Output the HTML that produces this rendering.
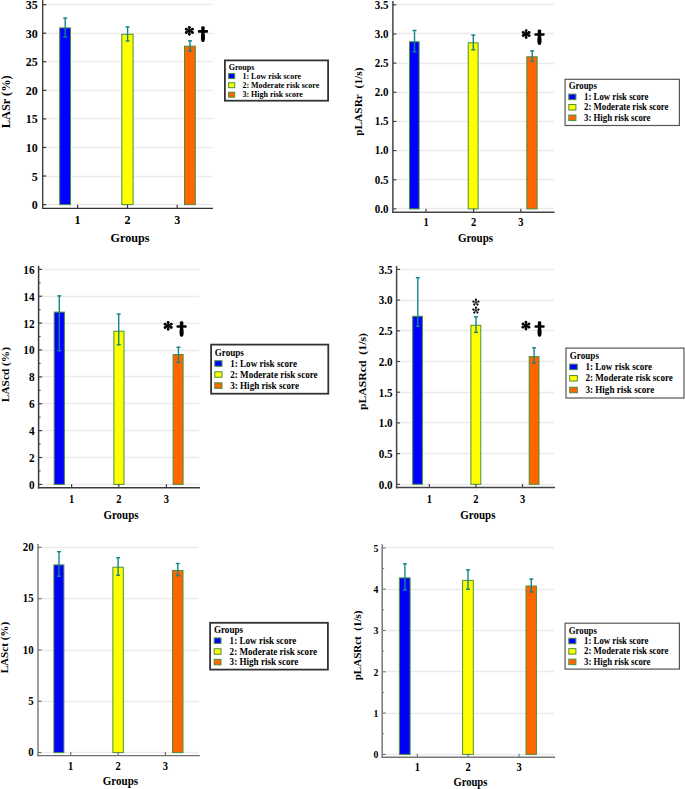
<!DOCTYPE html>
<html><head><meta charset="utf-8"><style>
html,body{margin:0;padding:0;background:#fff;width:685px;height:789px;overflow:hidden}
svg{display:block}
text{font-family:'Liberation Serif', serif;font-weight:bold;fill:#000}
</style></head><body>
<svg width="685" height="789" viewBox="0 0 685 789">
<rect width="685" height="789" fill="#fff"/>
<line x1="46.2" y1="204.5" x2="212.5" y2="204.5" stroke="#ebebeb" stroke-width="1.3"/>
<line x1="46.2" y1="176.5" x2="212.5" y2="176.5" stroke="#ebebeb" stroke-width="1.3"/>
<line x1="46.2" y1="147.5" x2="212.5" y2="147.5" stroke="#ebebeb" stroke-width="1.3"/>
<line x1="46.2" y1="118.5" x2="212.5" y2="118.5" stroke="#ebebeb" stroke-width="1.3"/>
<line x1="46.2" y1="90.5" x2="212.5" y2="90.5" stroke="#ebebeb" stroke-width="1.3"/>
<line x1="46.2" y1="61.5" x2="212.5" y2="61.5" stroke="#ebebeb" stroke-width="1.3"/>
<line x1="46.2" y1="33.5" x2="212.5" y2="33.5" stroke="#ebebeb" stroke-width="1.3"/>
<line x1="46.2" y1="4.5" x2="212.5" y2="4.5" stroke="#ebebeb" stroke-width="1.3"/>
<rect x="59.7" y="27.9" width="10.8" height="176.7" fill="#0000ff" stroke="#4a8f3a" stroke-width="1"/>
<rect x="121.8" y="34.3" width="11.3" height="170.3" fill="#ffff00" stroke="#4a8f3a" stroke-width="1"/>
<rect x="184.5" y="46.2" width="10.8" height="158.4" fill="#ff6600" stroke="#4a8f3a" stroke-width="1"/>
<g stroke="#158585" stroke-width="1.4"><line x1="65.2" y1="17.5" x2="65.2" y2="37.6"/><line x1="63.2" y1="18.1" x2="67.2" y2="18.1"/><line x1="63.2" y1="37" x2="67.2" y2="37"/></g>
<g stroke="#158585" stroke-width="1.4"><line x1="127.6" y1="26.4" x2="127.6" y2="41.5"/><line x1="125.6" y1="27" x2="129.6" y2="27"/><line x1="125.6" y1="40.9" x2="129.6" y2="40.9"/></g>
<g stroke="#158585" stroke-width="1.4"><line x1="190" y1="40.3" x2="190" y2="51.4"/><line x1="188" y1="40.9" x2="192" y2="40.9"/><line x1="188" y1="50.8" x2="192" y2="50.8"/></g>
<line x1="42.7" y1="0" x2="42.7" y2="208.95" stroke="#333" stroke-width="1.3"/>
<line x1="42.3" y1="208.3" x2="213" y2="208.3" stroke="#333" stroke-width="1.3"/>
<line x1="42.7" y1="204.6" x2="46.2" y2="204.6" stroke="#333" stroke-width="1.2"/>
<line x1="42.7" y1="176.03" x2="46.2" y2="176.03" stroke="#333" stroke-width="1.2"/>
<line x1="42.7" y1="147.46" x2="46.2" y2="147.46" stroke="#333" stroke-width="1.2"/>
<line x1="42.7" y1="118.89" x2="46.2" y2="118.89" stroke="#333" stroke-width="1.2"/>
<line x1="42.7" y1="90.32" x2="46.2" y2="90.32" stroke="#333" stroke-width="1.2"/>
<line x1="42.7" y1="61.75" x2="46.2" y2="61.75" stroke="#333" stroke-width="1.2"/>
<line x1="42.7" y1="33.18" x2="46.2" y2="33.18" stroke="#333" stroke-width="1.2"/>
<line x1="42.7" y1="4.61" x2="46.2" y2="4.61" stroke="#333" stroke-width="1.2"/>
<line x1="77.6" y1="204.8" x2="77.6" y2="208.3" stroke="#333" stroke-width="1.2"/>
<line x1="127.5" y1="204.8" x2="127.5" y2="208.3" stroke="#333" stroke-width="1.2"/>
<line x1="177.2" y1="204.8" x2="177.2" y2="208.3" stroke="#333" stroke-width="1.2"/>
<text x="37.8" y="209.18" text-anchor="end" font-size="12">0</text>
<text x="37.8" y="180.61" text-anchor="end" font-size="12">5</text>
<text x="37.8" y="152.04" text-anchor="end" font-size="12">10</text>
<text x="37.8" y="123.47" text-anchor="end" font-size="12">15</text>
<text x="37.8" y="94.9" text-anchor="end" font-size="12">20</text>
<text x="37.8" y="66.33" text-anchor="end" font-size="12">25</text>
<text x="37.8" y="37.76" text-anchor="end" font-size="12">30</text>
<text x="37.8" y="9.19" text-anchor="end" font-size="12">35</text>
<text x="77.6" y="223.88" text-anchor="middle" font-size="12">1</text>
<text x="127.5" y="223.88" text-anchor="middle" font-size="12">2</text>
<text x="177.2" y="223.88" text-anchor="middle" font-size="12">3</text>
<text x="130" y="241.67" text-anchor="middle" font-size="12.2">Groups</text>
<text transform="translate(9.69,101.8) scale(1,1.0) rotate(-90)" text-anchor="middle" font-size="12.3">LASr (%)</text>
<g stroke="#000" stroke-width="1.85" stroke-linecap="round"><line x1="189.35" y1="27.35" x2="189.35" y2="34.35"/><line x1="186.26" y1="29.21" x2="192.44" y2="32.49"/><line x1="192.44" y1="29.21" x2="186.26" y2="32.49"/></g><g fill="#000"><circle cx="189.35" cy="27.35" r="1.4"/><circle cx="189.35" cy="34.35" r="1.4"/><circle cx="186.26" cy="29.21" r="1.4"/><circle cx="192.44" cy="32.49" r="1.4"/><circle cx="192.44" cy="29.21" r="1.4"/><circle cx="186.26" cy="32.49" r="1.4"/></g>
<path transform="translate(197.8,26.2) scale(0.963,1.000)" d="M3.5,1.2 Q3.55,0 5.35,0 Q7.15,0 7.2,1.2 L7.05,3.9 L9.6,3.9 Q10.7,3.9 10.7,5.2 Q10.7,6.5 9.6,6.5 L7.0,6.5 Q7.65,10 7.45,12.8 Q7.15,15.9 5.35,15.9 Q3.55,15.9 3.25,12.8 Q3.05,10 3.7,6.5 L1.1,6.5 Q0,6.5 0,5.2 Q0,3.9 1.1,3.9 L3.65,3.9 Z" fill="#000"/>
<rect x="224.9" y="60.4" width="103.2" height="40.3" fill="#fff" stroke="#333" stroke-width="1.8"/>
<text x="228.7" y="70.18" font-size="8">Groups</text>
<rect x="228.6" y="73.6" width="6.1" height="5" fill="#0000ff" stroke="#4a8f3a" stroke-width="1"/>
<text x="242.4" y="78.5" font-size="8">1: Low risk score</text>
<rect x="228.6" y="82.7" width="6.1" height="5" fill="#ffff00" stroke="#4a8f3a" stroke-width="1"/>
<text x="242.4" y="87.6" font-size="8">2: Moderate risk score</text>
<rect x="228.6" y="92.2" width="6.1" height="5" fill="#ff6600" stroke="#4a8f3a" stroke-width="1"/>
<text x="242.4" y="97.1" font-size="8">3: High risk score</text>
<line x1="396.4" y1="208.5" x2="554.4" y2="208.5" stroke="#ebebeb" stroke-width="1.3"/>
<line x1="396.4" y1="179.5" x2="554.4" y2="179.5" stroke="#ebebeb" stroke-width="1.3"/>
<line x1="396.4" y1="150.5" x2="554.4" y2="150.5" stroke="#ebebeb" stroke-width="1.3"/>
<line x1="396.4" y1="121.5" x2="554.4" y2="121.5" stroke="#ebebeb" stroke-width="1.3"/>
<line x1="396.4" y1="92.5" x2="554.4" y2="92.5" stroke="#ebebeb" stroke-width="1.3"/>
<line x1="396.4" y1="63.5" x2="554.4" y2="63.5" stroke="#ebebeb" stroke-width="1.3"/>
<line x1="396.4" y1="33.5" x2="554.4" y2="33.5" stroke="#ebebeb" stroke-width="1.3"/>
<line x1="396.4" y1="4.5" x2="554.4" y2="4.5" stroke="#ebebeb" stroke-width="1.3"/>
<rect x="409.5" y="41.8" width="9.6" height="167.1" fill="#0000ff" stroke="#4a8f3a" stroke-width="1"/>
<rect x="468.2" y="42.8" width="9.9" height="166.1" fill="#ffff00" stroke="#4a8f3a" stroke-width="1"/>
<rect x="526.8" y="56.8" width="10.3" height="152.1" fill="#ff6600" stroke="#4a8f3a" stroke-width="1"/>
<g stroke="#158585" stroke-width="1.4"><line x1="414.5" y1="29.9" x2="414.5" y2="52.3"/><line x1="412.5" y1="30.5" x2="416.5" y2="30.5"/><line x1="412.5" y1="51.7" x2="416.5" y2="51.7"/></g>
<g stroke="#158585" stroke-width="1.4"><line x1="473.3" y1="34.6" x2="473.3" y2="50.3"/><line x1="471.3" y1="35.2" x2="475.3" y2="35.2"/><line x1="471.3" y1="49.7" x2="475.3" y2="49.7"/></g>
<g stroke="#158585" stroke-width="1.4"><line x1="532.2" y1="50.3" x2="532.2" y2="61.9"/><line x1="530.2" y1="50.9" x2="534.2" y2="50.9"/><line x1="530.2" y1="61.3" x2="534.2" y2="61.3"/></g>
<line x1="392.9" y1="1" x2="392.9" y2="212.95" stroke="#444" stroke-width="1.5"/>
<line x1="392.2" y1="212.2" x2="554.5" y2="212.2" stroke="#444" stroke-width="1.5"/>
<line x1="392.9" y1="208.9" x2="396.4" y2="208.9" stroke="#444" stroke-width="1.2"/>
<line x1="392.9" y1="179.75" x2="396.4" y2="179.75" stroke="#444" stroke-width="1.2"/>
<line x1="392.9" y1="150.59" x2="396.4" y2="150.59" stroke="#444" stroke-width="1.2"/>
<line x1="392.9" y1="121.44" x2="396.4" y2="121.44" stroke="#444" stroke-width="1.2"/>
<line x1="392.9" y1="92.28" x2="396.4" y2="92.28" stroke="#444" stroke-width="1.2"/>
<line x1="392.9" y1="63.12" x2="396.4" y2="63.12" stroke="#444" stroke-width="1.2"/>
<line x1="392.9" y1="33.97" x2="396.4" y2="33.97" stroke="#444" stroke-width="1.2"/>
<line x1="392.9" y1="4.81" x2="396.4" y2="4.81" stroke="#444" stroke-width="1.2"/>
<line x1="426" y1="208.7" x2="426" y2="212.2" stroke="#444" stroke-width="1.2"/>
<line x1="473.6" y1="208.7" x2="473.6" y2="212.2" stroke="#444" stroke-width="1.2"/>
<line x1="520.8" y1="208.7" x2="520.8" y2="212.2" stroke="#444" stroke-width="1.2"/>
<text transform="translate(388.4,212.76) scale(1,1.14)" text-anchor="end" font-size="11">0.0</text>
<text transform="translate(388.4,183.61) scale(1,1.14)" text-anchor="end" font-size="11">0.5</text>
<text transform="translate(388.4,154.45) scale(1,1.14)" text-anchor="end" font-size="11">1.0</text>
<text transform="translate(388.4,125.3) scale(1,1.14)" text-anchor="end" font-size="11">1.5</text>
<text transform="translate(388.4,96.14) scale(1,1.14)" text-anchor="end" font-size="11">2.0</text>
<text transform="translate(388.4,66.99) scale(1,1.14)" text-anchor="end" font-size="11">2.5</text>
<text transform="translate(388.4,37.83) scale(1,1.14)" text-anchor="end" font-size="11">3.0</text>
<text transform="translate(388.4,8.68) scale(1,1.14)" text-anchor="end" font-size="11">3.5</text>
<text transform="translate(426,226.07) scale(1,1.14)" text-anchor="middle" font-size="10.5">1</text>
<text transform="translate(473.6,226.07) scale(1,1.14)" text-anchor="middle" font-size="10.5">2</text>
<text transform="translate(520.8,226.07) scale(1,1.14)" text-anchor="middle" font-size="10.5">3</text>
<text transform="translate(475.5,242.26) scale(1,1.14)" text-anchor="middle" font-size="11">Groups</text>
<text transform="translate(361.69,101.7) scale(1,1.07) rotate(-90)" text-anchor="middle" font-size="10.65">pLASRr  (1/s)</text>
<g stroke="#000" stroke-width="1.85" stroke-linecap="round"><line x1="526.15" y1="30.6" x2="526.15" y2="37.4"/><line x1="523.15" y1="32.4" x2="529.15" y2="35.6"/><line x1="529.15" y1="32.4" x2="523.15" y2="35.6"/></g><g fill="#000"><circle cx="526.15" cy="30.6" r="1.4"/><circle cx="526.15" cy="37.4" r="1.4"/><circle cx="523.15" cy="32.4" r="1.4"/><circle cx="529.15" cy="35.6" r="1.4"/><circle cx="529.15" cy="32.4" r="1.4"/><circle cx="523.15" cy="35.6" r="1.4"/></g>
<path transform="translate(534.2,29.4) scale(0.981,0.981)" d="M3.5,1.2 Q3.55,0 5.35,0 Q7.15,0 7.2,1.2 L7.05,3.9 L9.6,3.9 Q10.7,3.9 10.7,5.2 Q10.7,6.5 9.6,6.5 L7.0,6.5 Q7.65,10 7.45,12.8 Q7.15,15.9 5.35,15.9 Q3.55,15.9 3.25,12.8 Q3.05,10 3.7,6.5 L1.1,6.5 Q0,6.5 0,5.2 Q0,3.9 1.1,3.9 L3.65,3.9 Z" fill="#000"/>
<rect x="565.1" y="79.3" width="114.3" height="46.2" fill="#fff" stroke="#555" stroke-width="1.2"/>
<text transform="translate(568.7,89.41) scale(1,1.14)" font-size="8.8">Groups</text>
<rect x="568.8" y="94.15" width="7.1" height="5.5" fill="#0000ff" stroke="#4a8f3a" stroke-width="1"/>
<text transform="translate(584,99.91) scale(1,1.14)" font-size="8.8">1: Low risk score</text>
<rect x="568.8" y="104.55" width="7.1" height="5.5" fill="#ffff00" stroke="#4a8f3a" stroke-width="1"/>
<text transform="translate(584,110.31) scale(1,1.14)" font-size="8.8">2: Moderate risk score</text>
<rect x="568.8" y="115.05" width="7.1" height="5.5" fill="#ff6600" stroke="#4a8f3a" stroke-width="1"/>
<text transform="translate(584,120.81) scale(1,1.14)" font-size="8.8">3: High risk score</text>
<line x1="42.1" y1="484.5" x2="199" y2="484.5" stroke="#ebebeb" stroke-width="1.3"/>
<line x1="42.1" y1="457.5" x2="199" y2="457.5" stroke="#ebebeb" stroke-width="1.3"/>
<line x1="42.1" y1="430.5" x2="199" y2="430.5" stroke="#ebebeb" stroke-width="1.3"/>
<line x1="42.1" y1="403.5" x2="199" y2="403.5" stroke="#ebebeb" stroke-width="1.3"/>
<line x1="42.1" y1="376.5" x2="199" y2="376.5" stroke="#ebebeb" stroke-width="1.3"/>
<line x1="42.1" y1="350.5" x2="199" y2="350.5" stroke="#ebebeb" stroke-width="1.3"/>
<line x1="42.1" y1="323.5" x2="199" y2="323.5" stroke="#ebebeb" stroke-width="1.3"/>
<line x1="42.1" y1="296.5" x2="199" y2="296.5" stroke="#ebebeb" stroke-width="1.3"/>
<line x1="42.1" y1="269.5" x2="199" y2="269.5" stroke="#ebebeb" stroke-width="1.3"/>
<rect x="54.2" y="312.1" width="10.2" height="172.3" fill="#0000ff" stroke="#4a8f3a" stroke-width="1"/>
<rect x="113.9" y="331.2" width="10.1" height="153.2" fill="#ffff00" stroke="#4a8f3a" stroke-width="1"/>
<rect x="173.1" y="354.5" width="10" height="129.9" fill="#ff6600" stroke="#4a8f3a" stroke-width="1"/>
<g stroke="#158585" stroke-width="1.4"><line x1="59.3" y1="295.3" x2="59.3" y2="351.2"/><line x1="57.3" y1="295.9" x2="61.3" y2="295.9"/><line x1="57.3" y1="350.6" x2="61.3" y2="350.6"/></g>
<g stroke="#158585" stroke-width="1.4"><line x1="118.7" y1="313.4" x2="118.7" y2="345.3"/><line x1="116.7" y1="314" x2="120.7" y2="314"/><line x1="116.7" y1="344.7" x2="120.7" y2="344.7"/></g>
<g stroke="#158585" stroke-width="1.4"><line x1="178.4" y1="346.7" x2="178.4" y2="363.1"/><line x1="176.4" y1="347.3" x2="180.4" y2="347.3"/><line x1="176.4" y1="362.5" x2="180.4" y2="362.5"/></g>
<line x1="38.6" y1="265.8" x2="38.6" y2="488.55" stroke="#3a3a3a" stroke-width="1.5"/>
<line x1="37.9" y1="487.8" x2="200" y2="487.8" stroke="#3a3a3a" stroke-width="1.5"/>
<line x1="38.6" y1="484.4" x2="42.1" y2="484.4" stroke="#3a3a3a" stroke-width="1.2"/>
<line x1="38.6" y1="457.52" x2="42.1" y2="457.52" stroke="#3a3a3a" stroke-width="1.2"/>
<line x1="38.6" y1="430.64" x2="42.1" y2="430.64" stroke="#3a3a3a" stroke-width="1.2"/>
<line x1="38.6" y1="403.76" x2="42.1" y2="403.76" stroke="#3a3a3a" stroke-width="1.2"/>
<line x1="38.6" y1="376.88" x2="42.1" y2="376.88" stroke="#3a3a3a" stroke-width="1.2"/>
<line x1="38.6" y1="350" x2="42.1" y2="350" stroke="#3a3a3a" stroke-width="1.2"/>
<line x1="38.6" y1="323.12" x2="42.1" y2="323.12" stroke="#3a3a3a" stroke-width="1.2"/>
<line x1="38.6" y1="296.24" x2="42.1" y2="296.24" stroke="#3a3a3a" stroke-width="1.2"/>
<line x1="38.6" y1="269.36" x2="42.1" y2="269.36" stroke="#3a3a3a" stroke-width="1.2"/>
<line x1="38.6" y1="470.96" x2="40.6" y2="470.96" stroke="#3a3a3a" stroke-width="1"/>
<line x1="38.6" y1="444.08" x2="40.6" y2="444.08" stroke="#3a3a3a" stroke-width="1"/>
<line x1="38.6" y1="417.2" x2="40.6" y2="417.2" stroke="#3a3a3a" stroke-width="1"/>
<line x1="38.6" y1="390.32" x2="40.6" y2="390.32" stroke="#3a3a3a" stroke-width="1"/>
<line x1="38.6" y1="363.44" x2="40.6" y2="363.44" stroke="#3a3a3a" stroke-width="1"/>
<line x1="38.6" y1="336.56" x2="40.6" y2="336.56" stroke="#3a3a3a" stroke-width="1"/>
<line x1="38.6" y1="309.68" x2="40.6" y2="309.68" stroke="#3a3a3a" stroke-width="1"/>
<line x1="38.6" y1="282.8" x2="40.6" y2="282.8" stroke="#3a3a3a" stroke-width="1"/>
<line x1="71.6" y1="484.3" x2="71.6" y2="487.8" stroke="#3a3a3a" stroke-width="1.2"/>
<line x1="118.8" y1="484.3" x2="118.8" y2="487.8" stroke="#3a3a3a" stroke-width="1.2"/>
<line x1="166.4" y1="484.3" x2="166.4" y2="487.8" stroke="#3a3a3a" stroke-width="1.2"/>
<text transform="translate(34.6,488.88) scale(1,1.14)" text-anchor="end" font-size="11.3">0</text>
<text transform="translate(34.6,462) scale(1,1.14)" text-anchor="end" font-size="11.3">2</text>
<text transform="translate(34.6,435.12) scale(1,1.14)" text-anchor="end" font-size="11.3">4</text>
<text transform="translate(34.6,408.24) scale(1,1.14)" text-anchor="end" font-size="11.3">6</text>
<text transform="translate(34.6,381.36) scale(1,1.14)" text-anchor="end" font-size="11.3">8</text>
<text transform="translate(34.6,354.48) scale(1,1.14)" text-anchor="end" font-size="11.3">10</text>
<text transform="translate(34.6,327.6) scale(1,1.14)" text-anchor="end" font-size="11.3">12</text>
<text transform="translate(34.6,300.72) scale(1,1.14)" text-anchor="end" font-size="11.3">14</text>
<text transform="translate(34.6,273.84) scale(1,1.14)" text-anchor="end" font-size="11.3">16</text>
<text transform="translate(71.6,502.57) scale(1,1.14)" text-anchor="middle" font-size="10.5">1</text>
<text transform="translate(118.8,502.57) scale(1,1.14)" text-anchor="middle" font-size="10.5">2</text>
<text transform="translate(166.4,502.57) scale(1,1.14)" text-anchor="middle" font-size="10.5">3</text>
<text transform="translate(121,519.06) scale(1,1.14)" text-anchor="middle" font-size="11">Groups</text>
<text transform="translate(8.78,374.6) scale(1,1.07) rotate(-90)" text-anchor="middle" font-size="10.6">LAScd (%)</text>
<g stroke="#000" stroke-width="1.85" stroke-linecap="round"><line x1="168.15" y1="322.35" x2="168.15" y2="329.35"/><line x1="165.06" y1="324.21" x2="171.24" y2="327.49"/><line x1="171.24" y1="324.21" x2="165.06" y2="327.49"/></g><g fill="#000"><circle cx="168.15" cy="322.35" r="1.4"/><circle cx="168.15" cy="329.35" r="1.4"/><circle cx="165.06" cy="324.21" r="1.4"/><circle cx="171.24" cy="327.49" r="1.4"/><circle cx="171.24" cy="324.21" r="1.4"/><circle cx="165.06" cy="327.49" r="1.4"/></g>
<path transform="translate(176.4,321.3) scale(0.972,0.981)" d="M3.5,1.2 Q3.55,0 5.35,0 Q7.15,0 7.2,1.2 L7.05,3.9 L9.6,3.9 Q10.7,3.9 10.7,5.2 Q10.7,6.5 9.6,6.5 L7.0,6.5 Q7.65,10 7.45,12.8 Q7.15,15.9 5.35,15.9 Q3.55,15.9 3.25,12.8 Q3.05,10 3.7,6.5 L1.1,6.5 Q0,6.5 0,5.2 Q0,3.9 1.1,3.9 L3.65,3.9 Z" fill="#000"/>
<rect x="211.1" y="344.6" width="117.2" height="49.1" fill="#fff" stroke="#333" stroke-width="1.8"/>
<text transform="translate(214.7,355.7) scale(1,1.14)" font-size="9.1">Groups</text>
<rect x="214.8" y="360.75" width="7.2" height="5.5" fill="#0000ff" stroke="#4a8f3a" stroke-width="1"/>
<text transform="translate(230.2,366.61) scale(1,1.14)" font-size="9.1">1: Low risk score</text>
<rect x="214.8" y="371.75" width="7.2" height="5.5" fill="#ffff00" stroke="#4a8f3a" stroke-width="1"/>
<text transform="translate(230.2,377.61) scale(1,1.14)" font-size="9.1">2: Moderate risk score</text>
<rect x="214.8" y="382.85" width="7.2" height="5.5" fill="#ff6600" stroke="#4a8f3a" stroke-width="1"/>
<text transform="translate(230.2,388.71) scale(1,1.14)" font-size="9.1">3: High risk score</text>
<line x1="400.1" y1="484.5" x2="554" y2="484.5" stroke="#ebebeb" stroke-width="1.3"/>
<line x1="400.1" y1="453.5" x2="554" y2="453.5" stroke="#ebebeb" stroke-width="1.3"/>
<line x1="400.1" y1="422.5" x2="554" y2="422.5" stroke="#ebebeb" stroke-width="1.3"/>
<line x1="400.1" y1="392.5" x2="554" y2="392.5" stroke="#ebebeb" stroke-width="1.3"/>
<line x1="400.1" y1="361.5" x2="554" y2="361.5" stroke="#ebebeb" stroke-width="1.3"/>
<line x1="400.1" y1="330.5" x2="554" y2="330.5" stroke="#ebebeb" stroke-width="1.3"/>
<line x1="400.1" y1="300.5" x2="554" y2="300.5" stroke="#ebebeb" stroke-width="1.3"/>
<line x1="400.1" y1="269.5" x2="554" y2="269.5" stroke="#ebebeb" stroke-width="1.3"/>
<rect x="412.7" y="316.3" width="9.7" height="168" fill="#0000ff" stroke="#4a8f3a" stroke-width="1"/>
<rect x="470.9" y="325.3" width="9.9" height="159" fill="#ffff00" stroke="#4a8f3a" stroke-width="1"/>
<rect x="529.2" y="356.6" width="9.8" height="127.7" fill="#ff6600" stroke="#4a8f3a" stroke-width="1"/>
<g stroke="#158585" stroke-width="1.4"><line x1="417.8" y1="277.2" x2="417.8" y2="326.9"/><line x1="415.8" y1="277.8" x2="419.8" y2="277.8"/><line x1="415.8" y1="326.3" x2="419.8" y2="326.3"/></g>
<g stroke="#158585" stroke-width="1.4"><line x1="476" y1="316.2" x2="476" y2="333"/><line x1="474" y1="316.8" x2="478" y2="316.8"/><line x1="474" y1="332.4" x2="478" y2="332.4"/></g>
<g stroke="#158585" stroke-width="1.4"><line x1="534.1" y1="347.3" x2="534.1" y2="363.5"/><line x1="532.1" y1="347.9" x2="536.1" y2="347.9"/><line x1="532.1" y1="362.9" x2="536.1" y2="362.9"/></g>
<line x1="396.6" y1="265.9" x2="396.6" y2="488.35" stroke="#444" stroke-width="1.5"/>
<line x1="395.9" y1="487.6" x2="555" y2="487.6" stroke="#444" stroke-width="1.5"/>
<line x1="396.6" y1="484.3" x2="400.1" y2="484.3" stroke="#444" stroke-width="1.2"/>
<line x1="396.6" y1="453.6" x2="400.1" y2="453.6" stroke="#444" stroke-width="1.2"/>
<line x1="396.6" y1="422.9" x2="400.1" y2="422.9" stroke="#444" stroke-width="1.2"/>
<line x1="396.6" y1="392.2" x2="400.1" y2="392.2" stroke="#444" stroke-width="1.2"/>
<line x1="396.6" y1="361.5" x2="400.1" y2="361.5" stroke="#444" stroke-width="1.2"/>
<line x1="396.6" y1="330.8" x2="400.1" y2="330.8" stroke="#444" stroke-width="1.2"/>
<line x1="396.6" y1="300.1" x2="400.1" y2="300.1" stroke="#444" stroke-width="1.2"/>
<line x1="396.6" y1="269.4" x2="400.1" y2="269.4" stroke="#444" stroke-width="1.2"/>
<line x1="429.3" y1="484.1" x2="429.3" y2="487.6" stroke="#444" stroke-width="1.2"/>
<line x1="475.9" y1="484.1" x2="475.9" y2="487.6" stroke="#444" stroke-width="1.2"/>
<line x1="522.5" y1="484.1" x2="522.5" y2="487.6" stroke="#444" stroke-width="1.2"/>
<text transform="translate(392.6,488.6) scale(1,1.14)" text-anchor="end" font-size="11.1">0.0</text>
<text transform="translate(392.6,457.9) scale(1,1.14)" text-anchor="end" font-size="11.1">0.5</text>
<text transform="translate(392.6,427.2) scale(1,1.14)" text-anchor="end" font-size="11.1">1.0</text>
<text transform="translate(392.6,396.5) scale(1,1.14)" text-anchor="end" font-size="11.1">1.5</text>
<text transform="translate(392.6,365.8) scale(1,1.14)" text-anchor="end" font-size="11.1">2.0</text>
<text transform="translate(392.6,335.1) scale(1,1.14)" text-anchor="end" font-size="11.1">2.5</text>
<text transform="translate(392.6,304.4) scale(1,1.14)" text-anchor="end" font-size="11.1">3.0</text>
<text transform="translate(392.6,273.7) scale(1,1.14)" text-anchor="end" font-size="11.1">3.5</text>
<text transform="translate(429.3,502.57) scale(1,1.14)" text-anchor="middle" font-size="10.5">1</text>
<text transform="translate(475.9,502.57) scale(1,1.14)" text-anchor="middle" font-size="10.5">2</text>
<text transform="translate(522.5,502.57) scale(1,1.14)" text-anchor="middle" font-size="10.5">3</text>
<text transform="translate(477.8,519.06) scale(1,1.14)" text-anchor="middle" font-size="11">Groups</text>
<text transform="translate(366.19,371.6) scale(1,1.07) rotate(-90)" text-anchor="middle" font-size="10.97">pLASRcd  (1/s)</text>
<line x1="475.9" y1="302.4" x2="475.9" y2="299.25" stroke="#000" stroke-width="0.85"/><circle cx="475.9" cy="299.7" r="1.1" fill="#000"/><line x1="475.9" y1="302.4" x2="478.9" y2="301.43" stroke="#000" stroke-width="0.85"/><circle cx="478.47" cy="301.57" r="1.1" fill="#000"/><line x1="475.9" y1="302.4" x2="477.75" y2="304.95" stroke="#000" stroke-width="0.85"/><circle cx="477.49" cy="304.58" r="1.1" fill="#000"/><line x1="475.9" y1="302.4" x2="474.05" y2="304.95" stroke="#000" stroke-width="0.85"/><circle cx="474.31" cy="304.58" r="1.1" fill="#000"/><line x1="475.9" y1="302.4" x2="472.9" y2="301.43" stroke="#000" stroke-width="0.85"/><circle cx="473.33" cy="301.57" r="1.1" fill="#000"/>
<line x1="475.9" y1="310.4" x2="475.9" y2="307.25" stroke="#000" stroke-width="0.85"/><circle cx="475.9" cy="307.7" r="1.1" fill="#000"/><line x1="475.9" y1="310.4" x2="478.9" y2="309.43" stroke="#000" stroke-width="0.85"/><circle cx="478.47" cy="309.57" r="1.1" fill="#000"/><line x1="475.9" y1="310.4" x2="477.75" y2="312.95" stroke="#000" stroke-width="0.85"/><circle cx="477.49" cy="312.58" r="1.1" fill="#000"/><line x1="475.9" y1="310.4" x2="474.05" y2="312.95" stroke="#000" stroke-width="0.85"/><circle cx="474.31" cy="312.58" r="1.1" fill="#000"/><line x1="475.9" y1="310.4" x2="472.9" y2="309.43" stroke="#000" stroke-width="0.85"/><circle cx="473.33" cy="309.57" r="1.1" fill="#000"/>
<g stroke="#000" stroke-width="1.85" stroke-linecap="round"><line x1="525.95" y1="322.2" x2="525.95" y2="329"/><line x1="522.95" y1="324" x2="528.95" y2="327.2"/><line x1="528.95" y1="324" x2="522.95" y2="327.2"/></g><g fill="#000"><circle cx="525.95" cy="322.2" r="1.4"/><circle cx="525.95" cy="329" r="1.4"/><circle cx="522.95" cy="324" r="1.4"/><circle cx="528.95" cy="327.2" r="1.4"/><circle cx="528.95" cy="324" r="1.4"/><circle cx="522.95" cy="327.2" r="1.4"/></g>
<path transform="translate(534.4,321.3) scale(0.963,0.981)" d="M3.5,1.2 Q3.55,0 5.35,0 Q7.15,0 7.2,1.2 L7.05,3.9 L9.6,3.9 Q10.7,3.9 10.7,5.2 Q10.7,6.5 9.6,6.5 L7.0,6.5 Q7.65,10 7.45,12.8 Q7.15,15.9 5.35,15.9 Q3.55,15.9 3.25,12.8 Q3.05,10 3.7,6.5 L1.1,6.5 Q0,6.5 0,5.2 Q0,3.9 1.1,3.9 L3.65,3.9 Z" fill="#000"/>
<rect x="566" y="348.1" width="118" height="49.9" fill="#fff" stroke="#555" stroke-width="1.2"/>
<text transform="translate(569.8,359.3) scale(1,1.14)" font-size="9.1">Groups</text>
<rect x="569.7" y="364.15" width="7.6" height="5.5" fill="#0000ff" stroke="#4a8f3a" stroke-width="1"/>
<text transform="translate(585.4,370.01) scale(1,1.14)" font-size="9.1">1: Low risk score</text>
<rect x="569.7" y="375.55" width="7.6" height="5.5" fill="#ffff00" stroke="#4a8f3a" stroke-width="1"/>
<text transform="translate(585.4,381.41) scale(1,1.14)" font-size="9.1">2: Moderate risk score</text>
<rect x="569.7" y="387.25" width="7.6" height="5.5" fill="#ff6600" stroke="#4a8f3a" stroke-width="1"/>
<text transform="translate(585.4,393.11) scale(1,1.14)" font-size="9.1">3: High risk score</text>
<line x1="41.5" y1="752.5" x2="198.5" y2="752.5" stroke="#ebebeb" stroke-width="1.3"/>
<line x1="41.5" y1="701.5" x2="198.5" y2="701.5" stroke="#ebebeb" stroke-width="1.3"/>
<line x1="41.5" y1="650.5" x2="198.5" y2="650.5" stroke="#ebebeb" stroke-width="1.3"/>
<line x1="41.5" y1="598.5" x2="198.5" y2="598.5" stroke="#ebebeb" stroke-width="1.3"/>
<line x1="41.5" y1="547.5" x2="198.5" y2="547.5" stroke="#ebebeb" stroke-width="1.3"/>
<rect x="53.9" y="564.9" width="10" height="187.7" fill="#0000ff" stroke="#4a8f3a" stroke-width="1"/>
<rect x="112.9" y="567.2" width="10.4" height="185.4" fill="#ffff00" stroke="#4a8f3a" stroke-width="1"/>
<rect x="172.5" y="570.4" width="10.5" height="182.2" fill="#ff6600" stroke="#4a8f3a" stroke-width="1"/>
<g stroke="#158585" stroke-width="1.4"><line x1="59" y1="551.1" x2="59" y2="576.8"/><line x1="57" y1="551.7" x2="61" y2="551.7"/><line x1="57" y1="576.2" x2="61" y2="576.2"/></g>
<g stroke="#158585" stroke-width="1.4"><line x1="118.1" y1="557.2" x2="118.1" y2="575.8"/><line x1="116.1" y1="557.8" x2="120.1" y2="557.8"/><line x1="116.1" y1="575.2" x2="120.1" y2="575.2"/></g>
<g stroke="#158585" stroke-width="1.4"><line x1="177.8" y1="562.9" x2="177.8" y2="576.2"/><line x1="175.8" y1="563.5" x2="179.8" y2="563.5"/><line x1="175.8" y1="575.6" x2="179.8" y2="575.6"/></g>
<line x1="38" y1="544.1" x2="38" y2="756.27" stroke="#707070" stroke-width="1.35"/>
<line x1="37.3" y1="755.6" x2="199.8" y2="755.6" stroke="#707070" stroke-width="1.35"/>
<line x1="38" y1="752.6" x2="41.5" y2="752.6" stroke="#707070" stroke-width="1.2"/>
<line x1="38" y1="701.3" x2="41.5" y2="701.3" stroke="#707070" stroke-width="1.2"/>
<line x1="38" y1="650" x2="41.5" y2="650" stroke="#707070" stroke-width="1.2"/>
<line x1="38" y1="598.7" x2="41.5" y2="598.7" stroke="#707070" stroke-width="1.2"/>
<line x1="38" y1="547.4" x2="41.5" y2="547.4" stroke="#707070" stroke-width="1.2"/>
<line x1="70.7" y1="752.1" x2="70.7" y2="755.6" stroke="#707070" stroke-width="1.2"/>
<line x1="118.2" y1="752.1" x2="118.2" y2="755.6" stroke="#707070" stroke-width="1.2"/>
<line x1="165.4" y1="752.1" x2="165.4" y2="755.6" stroke="#707070" stroke-width="1.2"/>
<text transform="translate(33.6,756.29) scale(1,1.14)" text-anchor="end" font-size="10.8">0</text>
<text transform="translate(33.6,704.99) scale(1,1.14)" text-anchor="end" font-size="10.8">5</text>
<text transform="translate(33.6,653.69) scale(1,1.14)" text-anchor="end" font-size="10.8">10</text>
<text transform="translate(33.6,602.39) scale(1,1.14)" text-anchor="end" font-size="10.8">15</text>
<text transform="translate(33.6,551.09) scale(1,1.14)" text-anchor="end" font-size="10.8">20</text>
<text transform="translate(70.7,769.87) scale(1,1.14)" text-anchor="middle" font-size="10.5">1</text>
<text transform="translate(118.2,769.87) scale(1,1.14)" text-anchor="middle" font-size="10.5">2</text>
<text transform="translate(165.4,769.87) scale(1,1.14)" text-anchor="middle" font-size="10.5">3</text>
<text transform="translate(120.4,785.26) scale(1,1.14)" text-anchor="middle" font-size="11">Groups</text>
<text transform="translate(8.21,647.6) scale(1,1.07) rotate(-90)" text-anchor="middle" font-size="10.36">LASct (%)</text>
<rect x="210.1" y="622.8" width="117.8" height="46.8" fill="#fff" stroke="#333" stroke-width="1.8"/>
<text transform="translate(213.9,633.3) scale(1,1.14)" font-size="9.1">Groups</text>
<rect x="214.2" y="637.95" width="6.8" height="5.5" fill="#0000ff" stroke="#4a8f3a" stroke-width="1"/>
<text transform="translate(229.6,643.81) scale(1,1.14)" font-size="9.1">1: Low risk score</text>
<rect x="214.2" y="648.75" width="6.8" height="5.5" fill="#ffff00" stroke="#4a8f3a" stroke-width="1"/>
<text transform="translate(229.6,654.61) scale(1,1.14)" font-size="9.1">2: Moderate risk score</text>
<rect x="214.2" y="659.35" width="6.8" height="5.5" fill="#ff6600" stroke="#4a8f3a" stroke-width="1"/>
<text transform="translate(229.6,665.21) scale(1,1.14)" font-size="9.1">3: High risk score</text>
<line x1="385.7" y1="754.5" x2="554" y2="754.5" stroke="#ebebeb" stroke-width="1.3"/>
<line x1="385.7" y1="713.5" x2="554" y2="713.5" stroke="#ebebeb" stroke-width="1.3"/>
<line x1="385.7" y1="671.5" x2="554" y2="671.5" stroke="#ebebeb" stroke-width="1.3"/>
<line x1="385.7" y1="630.5" x2="554" y2="630.5" stroke="#ebebeb" stroke-width="1.3"/>
<line x1="385.7" y1="589.5" x2="554" y2="589.5" stroke="#ebebeb" stroke-width="1.3"/>
<line x1="385.7" y1="547.5" x2="554" y2="547.5" stroke="#ebebeb" stroke-width="1.3"/>
<rect x="399.4" y="577.9" width="10.7" height="176.5" fill="#0000ff" stroke="#4a8f3a" stroke-width="1"/>
<rect x="462.6" y="580.4" width="10.7" height="174" fill="#ffff00" stroke="#4a8f3a" stroke-width="1"/>
<rect x="526" y="586" width="10.4" height="168.4" fill="#ff6600" stroke="#4a8f3a" stroke-width="1"/>
<g stroke="#158585" stroke-width="1.4"><line x1="404.9" y1="563.2" x2="404.9" y2="590.4"/><line x1="402.9" y1="563.8" x2="406.9" y2="563.8"/><line x1="402.9" y1="589.8" x2="406.9" y2="589.8"/></g>
<g stroke="#158585" stroke-width="1.4"><line x1="468" y1="569.3" x2="468" y2="589.9"/><line x1="466" y1="569.9" x2="470" y2="569.9"/><line x1="466" y1="589.3" x2="470" y2="589.3"/></g>
<g stroke="#158585" stroke-width="1.4"><line x1="531.3" y1="578.5" x2="531.3" y2="592.6"/><line x1="529.3" y1="579.1" x2="533.3" y2="579.1"/><line x1="529.3" y1="592" x2="533.3" y2="592"/></g>
<line x1="382.2" y1="544.2" x2="382.2" y2="757.95" stroke="#777" stroke-width="1.5"/>
<line x1="381.5" y1="757.2" x2="555" y2="757.2" stroke="#777" stroke-width="1.5"/>
<line x1="382.2" y1="754.4" x2="385.7" y2="754.4" stroke="#777" stroke-width="1.2"/>
<line x1="382.2" y1="713.1" x2="385.7" y2="713.1" stroke="#777" stroke-width="1.2"/>
<line x1="382.2" y1="671.8" x2="385.7" y2="671.8" stroke="#777" stroke-width="1.2"/>
<line x1="382.2" y1="630.5" x2="385.7" y2="630.5" stroke="#777" stroke-width="1.2"/>
<line x1="382.2" y1="589.2" x2="385.7" y2="589.2" stroke="#777" stroke-width="1.2"/>
<line x1="382.2" y1="547.9" x2="385.7" y2="547.9" stroke="#777" stroke-width="1.2"/>
<line x1="382.2" y1="733.75" x2="384.2" y2="733.75" stroke="#777" stroke-width="1"/>
<line x1="382.2" y1="692.45" x2="384.2" y2="692.45" stroke="#777" stroke-width="1"/>
<line x1="382.2" y1="651.15" x2="384.2" y2="651.15" stroke="#777" stroke-width="1"/>
<line x1="382.2" y1="609.85" x2="384.2" y2="609.85" stroke="#777" stroke-width="1"/>
<line x1="382.2" y1="568.55" x2="384.2" y2="568.55" stroke="#777" stroke-width="1"/>
<line x1="417.4" y1="753.7" x2="417.4" y2="757.2" stroke="#777" stroke-width="1.2"/>
<line x1="468.2" y1="753.7" x2="468.2" y2="757.2" stroke="#777" stroke-width="1.2"/>
<line x1="519" y1="753.7" x2="519" y2="757.2" stroke="#777" stroke-width="1.2"/>
<text transform="translate(378.3,758.2) scale(1,1.14)" text-anchor="end" font-size="9.8">0</text>
<text transform="translate(378.3,716.9) scale(1,1.14)" text-anchor="end" font-size="9.8">1</text>
<text transform="translate(378.3,675.6) scale(1,1.14)" text-anchor="end" font-size="9.8">2</text>
<text transform="translate(378.3,634.3) scale(1,1.14)" text-anchor="end" font-size="9.8">3</text>
<text transform="translate(378.3,593) scale(1,1.14)" text-anchor="end" font-size="9.8">4</text>
<text transform="translate(378.3,551.7) scale(1,1.14)" text-anchor="end" font-size="9.8">5</text>
<text transform="translate(417.4,771.47) scale(1,1.14)" text-anchor="middle" font-size="10.5">1</text>
<text transform="translate(468.2,771.47) scale(1,1.14)" text-anchor="middle" font-size="10.5">2</text>
<text transform="translate(519,771.47) scale(1,1.14)" text-anchor="middle" font-size="10.5">3</text>
<text transform="translate(470.4,786.04) scale(1,1.14)" text-anchor="middle" font-size="10.6">Groups</text>
<text transform="translate(361.09,645.4) scale(1,1.07) rotate(-90)" text-anchor="middle" font-size="10.3">pLASRct  (1/s)</text>
<rect x="565.1" y="623.2" width="114.3" height="45.9" fill="#fff" stroke="#555" stroke-width="1.2"/>
<text transform="translate(568.7,633.61) scale(1,1.14)" font-size="8.8">Groups</text>
<rect x="568.8" y="638.25" width="7.1" height="5.5" fill="#0000ff" stroke="#4a8f3a" stroke-width="1"/>
<text transform="translate(584,644.01) scale(1,1.14)" font-size="8.8">1: Low risk score</text>
<rect x="568.8" y="648.65" width="7.1" height="5.5" fill="#ffff00" stroke="#4a8f3a" stroke-width="1"/>
<text transform="translate(584,654.41) scale(1,1.14)" font-size="8.8">2: Moderate risk score</text>
<rect x="568.8" y="659.15" width="7.1" height="5.5" fill="#ff6600" stroke="#4a8f3a" stroke-width="1"/>
<text transform="translate(584,664.91) scale(1,1.14)" font-size="8.8">3: High risk score</text>
</svg></body></html>
